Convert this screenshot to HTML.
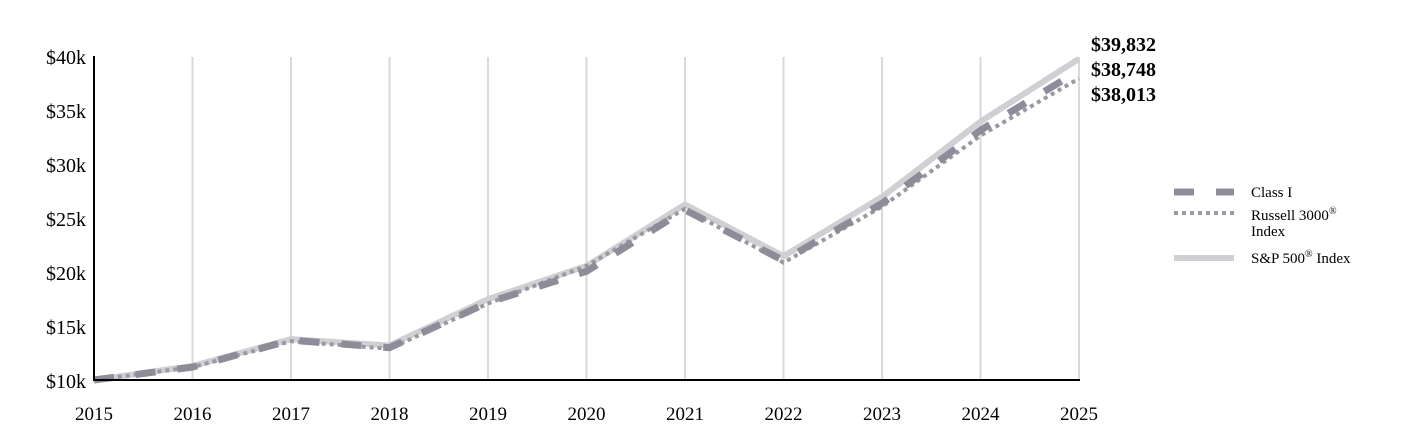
<!DOCTYPE html>
<html><head><style>body{margin:0;background:#fff}svg{display:block}text{font-family:"Liberation Serif",serif;fill:#000}</style></head>
<body>
<svg width="1404" height="444" xmlns="http://www.w3.org/2000/svg">
<g stroke="#d9d9d9" stroke-width="2">
<line x1="192.5" y1="57" x2="192.5" y2="380"/><line x1="291" y1="57" x2="291" y2="380"/><line x1="389.5" y1="57" x2="389.5" y2="380"/><line x1="488" y1="57" x2="488" y2="380"/><line x1="586.5" y1="57" x2="586.5" y2="380"/><line x1="685" y1="57" x2="685" y2="380"/><line x1="783.5" y1="57" x2="783.5" y2="380"/><line x1="882" y1="57" x2="882" y2="380"/><line x1="980.5" y1="57" x2="980.5" y2="380"/><line x1="1079" y1="57" x2="1079" y2="380"/>
</g>
<polyline fill="none" stroke="#cfcfd4" stroke-width="6" points="94,380 192.5,366 291,339.1 389.5,345.5 488,299.2 586.5,265.9 685,204.5 783.5,256.2 882,197 980.5,121.6 1079,58.8"/>
<polyline fill="none" stroke="#9a98a0" stroke-width="4" stroke-dasharray="4,4" points="94,380 192.5,367.1 291,341.2 389.5,348.8 488,303.6 586.5,265.9 685,208.8 783.5,262.6 882,206.7 980.5,135.6 1079,78.5"/>
<polyline fill="none" stroke="#8e8c99" stroke-width="7" stroke-dasharray="20,22" points="94,380 192.5,367.1 291,340.2 389.5,347.7 488,302.5 586.5,271.3 685,209.9 783.5,260.5 882,203.4 980.5,130.2 1079,70.5"/>
<line x1="94" y1="56" x2="94" y2="381" stroke="#000" stroke-width="2"/>
<line x1="93" y1="380" x2="1080" y2="380" stroke="#000" stroke-width="2"/>
<g font-size="20" text-anchor="end">
<text x="86" y="64">$40k</text><text x="86" y="118">$35k</text><text x="86" y="172">$30k</text><text x="86" y="226">$25k</text><text x="86" y="280">$20k</text><text x="86" y="334">$15k</text><text x="86" y="388">$10k</text>
</g>
<g font-size="19" text-anchor="middle">
<text x="94" y="420">2015</text><text x="192.5" y="420">2016</text><text x="291" y="420">2017</text><text x="389.5" y="420">2018</text><text x="488" y="420">2019</text><text x="586.5" y="420">2020</text><text x="685" y="420">2021</text><text x="783.5" y="420">2022</text><text x="882" y="420">2023</text><text x="980.5" y="420">2024</text><text x="1079" y="420">2025</text>
</g>
<g font-size="20" font-weight="bold">
<text x="1091" y="51">$39,832</text><text x="1091" y="76">$38,748</text><text x="1091" y="101">$38,013</text>
</g>
<line x1="1174" y1="192" x2="1234" y2="192" stroke="#8e8c99" stroke-width="7" stroke-dasharray="20,22"/>
<line x1="1174" y1="213" x2="1234" y2="213" stroke="#9a98a0" stroke-width="4" stroke-dasharray="4,4"/>
<line x1="1174" y1="258" x2="1234" y2="258" stroke="#cfcfd4" stroke-width="6"/>
<g font-size="15">
<text x="1251" y="197">Class I</text>
<text x="1251" y="220">Russell 3000<tspan font-size="10" dy="-6">®</tspan></text>
<text x="1251" y="236">Index</text>
<text x="1251" y="263">S&amp;P 500<tspan font-size="10" dy="-6">®</tspan><tspan dy="6"> Index</tspan></text>
</g>
</svg>
</body></html>
